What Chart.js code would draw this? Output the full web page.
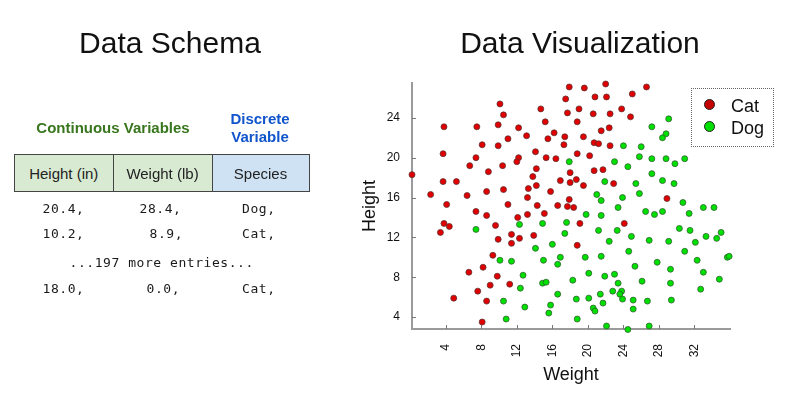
<!DOCTYPE html>
<html><head><meta charset="utf-8">
<script src="https://cdn.jsdelivr.net/npm/chart.js@4"></script>
<style>
html,body{margin:0;padding:0;background:#fff;}
body{width:788px;height:395px;position:relative;overflow:hidden;font-family:"Liberation Sans",Arial,sans-serif;color:#222;}
#chart{position:absolute;left:0;top:0;z-index:0;}
.abs{position:absolute;white-space:nowrap;line-height:1;z-index:1;}
.ctr{transform:translateX(-50%);}
.title{font-size:30px;color:#111;}
.green{color:#38761d;font-weight:bold;font-size:15px;}
.blue{color:#1155cc;font-weight:bold;font-size:15px;}
.cell{position:absolute;top:154px;height:38px;box-sizing:border-box;border:1px solid #444;display:flex;align-items:center;justify-content:center;font-size:15px;line-height:1;color:#222;z-index:1;}
.mono{font-family:"DejaVu Sans Mono",monospace;font-size:13px;letter-spacing:0.55px;color:#1a1a1a;}
#legend{position:absolute;left:691px;top:88px;width:83px;height:59px;box-sizing:border-box;border:1px dotted #666;z-index:1;}
.lmark{position:absolute;width:9px;height:9px;border-radius:50%;border:1px solid #222;}
.ltext{position:absolute;font-size:18px;line-height:1;color:#111;}
</style></head>
<body>
<canvas id="chart" width="788" height="395"></canvas>

<div class="abs ctr title" style="left:170px;top:27.6px;">Data Schema</div>
<div class="abs ctr title" style="left:580px;top:27.6px;">Data Visualization</div>

<div class="abs ctr green" style="left:113px;top:120px;">Continuous Variables</div>
<div class="abs ctr blue" style="left:260px;top:110.6px;">Discrete</div>
<div class="abs ctr blue" style="left:260px;top:129px;">Variable</div>

<div class="cell" style="left:14px;width:99.5px;background:#d9ead3;">Height (in)</div>
<div class="cell" style="left:112.5px;width:100px;background:#d9ead3;">Weight (lb)</div>
<div class="cell" style="left:211.5px;width:98px;background:#cfe2f3;">Species</div>

<div id="rows"></div>
<div id="legend"></div>

<script>
// ---- schema rows ----
const schemaRows = [
  ["20.4,", "28.4,", "Dog,"],
  ["10.2,", "8.9,", "Cat,"],
  ["18.0,", "0.0,", "Cat,"]
];
const moreEntriesText = "...197 more entries...";

// ---- scatter data: [weight, height] ----
const seriesNames = ["Cat", "Dog"];
const catPoints = [
  [0.2,18.3],[10.1,25.4],[10.5,24.3],[3.8,23.1],[7.5,23.1],[9.9,23.3],[12.2,23.0],[8.1,21.3],[9.9,21.2],[11.0,21.9],
  [3.7,20.4],[7.4,20.0],[12.2,20.0],[12.0,19.6],[6.7,19.2],[10.4,19.2],[8.8,18.6],[3.7,17.6],[5.2,17.6],[2.3,16.3],
  [6.4,16.2],[8.6,16.6],[10.5,16.8],
  [4.1,15.3],[7.4,14.6],[8.6,14.2],[11.0,15.3],[12.1,14.0],[3.8,13.4],[4.4,13.1],[3.4,12.5],[9.6,13.2],[9.9,11.8],
  [11.4,12.3],[11.4,11.4],[12.3,11.9],[9.3,10.2],[8.2,9.0],[6.6,8.5],[9.8,8.1],[9.0,7.2],[11.2,7.3],[7.6,6.6],
  [4.9,5.9],[8.6,5.6],[8.1,3.5],
  [17.9,27.1],[19.6,27.0],[22.0,27.4],[26.6,27.1],[17.5,25.9],[20.8,26.1],[22.1,26.1],[25.0,26.4],[14.7,24.9],[17.7,24.5],
  [19.0,24.9],[20.6,24.4],[22.5,24.4],[23.8,24.9],[24.8,24.1],[15.2,23.6],[18.8,23.6],[22.4,23.0],[21.5,22.7],[13.1,22.2],
  [16.2,22.5],[15.5,21.9],[17.4,22.1],[19.5,22.1],[17.3,21.3],[20.7,21.5],[21.2,21.4],[22.5,21.2],[14.1,20.6],[15.3,20.0],
  [16.4,19.9],[18.8,20.4],[20.2,20.2],[14.2,18.9],[18.0,18.5],[20.7,18.7],[21.7,18.8],[13.8,18.1],[16.9,17.7],[18.0,17.5],
  [18.7,17.8],[19.5,17.2],[22.9,17.4],[14.2,17.2],[13.3,16.9],[15.8,16.6],
  [13.2,16.0],[17.9,15.8],[14.3,15.2],[16.6,15.2],[17.7,15.1],[18.4,15.0],[13.2,14.3],[15.1,14.4],[19.1,13.4],[24.1,13.4],
  [13.9,12.2],[18.8,11.2],[28.9,15.9]
];
const dogPoints = [
  [7.4,12.8],[12.3,13.3],[10.1,9.7],[11.4,9.6],[12.4,6.9],[10.5,5.6],[10.8,3.8],
  [27.2,23.1],[24.0,21.2],[26.0,21.1],[17.9,19.6],[23.0,19.6],[25.8,20.1],[27.2,19.9],[24.5,19.1],[27.2,18.4],[21.9,17.6],
  [25.4,17.4],[21.0,16.3],[25.8,16.4],
  [21.5,15.7],[23.9,16.0],[23.4,15.0],[26.5,14.6],[27.5,14.3],[19.8,14.3],[21.5,14.2],[14.9,13.4],[17.6,13.5],[21.2,12.7],
  [23.3,12.7],[17.4,12.4],[24.9,12.1],[26.9,11.7],[22.4,11.6],[16.0,11.3],[14.1,10.9],[24.6,10.6],[16.9,10.0],[19.7,10.0],
  [21.5,10.1],[15.0,9.7],[16.6,9.3],[27.8,9.5],[25.3,9.1],[20.1,8.4],[21.9,8.1],[23.0,8.3],[12.7,8.2],[18.3,7.7],
  [14.9,7.4],[15.3,7.5],[23.4,7.4],[26.1,7.6],[16.6,6.3],[22.8,6.6],[23.8,6.6],[23.6,6.3],[21.4,6.3],[23.9,5.8],
  [18.7,5.8],[20.1,5.9],[21.7,5.4],[25.1,5.7],[26.7,5.6],[12.9,5.0],[15.8,5.2],[20.6,4.9],[20.8,4.6],[25.1,4.8],
  [15.6,4.4],[18.8,3.8],[22.1,3.1],[24.5,2.75],[26.9,3.1],
  [29.1,23.9],[28.8,22.4],[28.4,22.0],[28.8,19.9],[29.8,19.4],[30.9,19.9],[28.4,17.7],[29.7,17.4],[28.4,14.6],[30.7,15.5],
  [31.4,14.4],[33.0,15.0],[34.2,15.0],[30.3,12.9],[31.5,12.7],[29.1,11.6],[32.1,11.5],[33.3,12.1],[34.5,11.9],[35.0,12.5],
  [30.9,10.6],[35.7,10.0],[35.9,10.1],[32.3,9.7],[29.3,8.8],[33.0,8.5],[34.8,7.8],[29.3,7.4],[32.7,6.8],[29.4,5.7]
];
const xTicks = [4, 8, 12, 16, 20, 24, 28, 32];
const yTicks = [4, 8, 12, 16, 20, 24];
const xTitle = "Weight";
const yTitle = "Height";

// ---- schema rows into HTML ----
(function(){
  const rows = document.getElementById('rows');
  const tops = [201.7, 227.3, 282.3];
  const lefts = [[42.5, 139.5, 242],[42.5, 149.5, 242],[42.5, 146.5, 242]];
  schemaRows.forEach((r, i) => {
    r.forEach((t, j) => {
      const d = document.createElement('div');
      d.className = 'abs mono';
      d.style.left = lefts[i][j] + 'px';
      d.style.top = tops[i] + 'px';
      d.textContent = t;
      rows.appendChild(d);
    });
  });
  const m = document.createElement('div');
  m.className = 'abs mono';
  m.style.left = '69.5px'; m.style.top = '256.3px';
  m.textContent = moreEntriesText;
  rows.appendChild(m);
})();

// ---- chart ----
Chart.defaults.font.family = '"Liberation Sans", Arial, sans-serif';
Chart.defaults.color = '#111';

const innerTicks = {
  id: 'innerTicks',
  afterDraw(chart) {
    const {ctx, chartArea, scales} = chart;
    ctx.save();
    ctx.strokeStyle = '#777';
    ctx.lineWidth = 1;
    ctx.beginPath();
    xTicks.forEach(v => {
      const px = Math.round(scales.x.getPixelForValue(v)) + 0.5;
      ctx.moveTo(px, chartArea.bottom);
      ctx.lineTo(px, chartArea.bottom - 4);
    });
    yTicks.forEach(v => {
      const py = Math.round(scales.y.getPixelForValue(v)) + 0.5;
      ctx.moveTo(chartArea.left, py);
      ctx.lineTo(chartArea.left + 4, py);
    });
    ctx.stroke();
    ctx.restore();
  }
};

const pointColors = ['#e00000', '#00e000'];
const pointBorders = ['rgba(90,50,50,0.75)', 'rgba(50,90,50,0.75)'];
const legendColors = ['#c40000', '#00e000'];

const chart = new Chart(document.getElementById('chart'), {
  type: 'scatter',
  data: {
    datasets: [catPoints, dogPoints].map((pts, i) => ({
      label: seriesNames[i],
      data: pts.map(p => ({x: p[0], y: p[1]})),
      backgroundColor: pointColors[i],
      borderColor: pointBorders[i],
      borderWidth: 1,
      pointRadius: 3,
      clip: false
    }))
  },
  options: {
    responsive: false,
    animation: false,
    events: [],
    layout: {padding: {left: 355, right: 58, top: 83, bottom: 5}},
    plugins: {legend: {display: false}, tooltip: {enabled: false}},
    scales: {
      x: {
        type: 'linear', min: 0.2, max: 36,
        afterBuildTicks: s => { s.ticks = xTicks.map(v => ({value: v})); },
        afterFit: s => { s.height = 61; },
        grid: {display: false, drawTicks: false},
        border: {display: true, color: '#9a9a9a', width: 2},
        ticks: {autoSkip: false, minRotation: 90, maxRotation: 90, padding: 15, color: '#111', font: {size: 12}},
        title: {display: true, text: xTitle, color: '#111', font: {size: 18}, padding: {top: 4, bottom: 4}}
      },
      y: {
        type: 'linear', min: 2.8, max: 27.5,
        afterBuildTicks: s => { s.ticks = yTicks.map(v => ({value: v})); },
        afterFit: s => { s.width = 57; },
        grid: {display: false, drawTicks: false},
        border: {display: true, color: '#9a9a9a', width: 2},
        ticks: {autoSkip: false, padding: 12, color: '#111', font: {size: 12}},
        title: {display: true, text: yTitle, color: '#111', font: {size: 18}, padding: {top: 4, bottom: 4}}
      }
    }
  },
  plugins: [innerTicks]
});

// ---- HTML legend built from the datasets ----
(function(){
  const lg = document.getElementById('legend');
  chart.data.datasets.forEach((ds, i) => {
    const mk = document.createElement('span');
    mk.className = 'lmark';
    mk.style.background = legendColors[i];
    mk.style.left = '12px';
    mk.style.top = (10 + i * 22.4) + 'px';
    lg.appendChild(mk);
    const tx = document.createElement('span');
    tx.className = 'ltext';
    tx.style.left = '39px';
    tx.style.top = (8.1 + i * 22) + 'px';
    tx.textContent = ds.label;
    lg.appendChild(tx);
  });
})();
</script>
</body></html>
